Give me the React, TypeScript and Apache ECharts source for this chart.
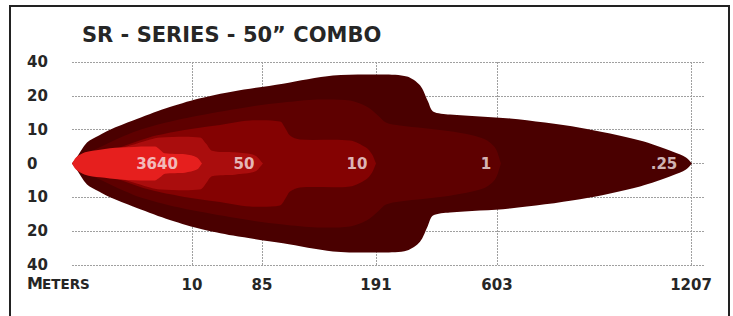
import React, { useEffect, useRef } from "react";
import * as echarts from "echarts";

// Axis ticks (x in chart position units, y in grid rows)
const xTickPositions = [120, 190, 304, 425, 619];
const xTickLabels = ["10", "85", "191", "603", "1207"];
const yTickLabels = ["40", "20", "10", "0", "10", "20", "40"];

// Beam contours: x position along the beam, half-width in rows
const beam025X = [0, 4, 15, 27, 38, 61, 94, 127, 161, 211, 261, 311, 335, 348, 356, 361, 378, 438, 508, 568, 601, 614, 620];
const beam025H = [0, 0.15, 0.62, 0.83, 1.0, 1.27, 1.63, 1.92, 2.13, 2.36, 2.6, 2.63, 2.57, 2.31, 1.83, 1.54, 1.45, 1.33, 1.06, 0.68, 0.35, 0.18, 0];

const beam1X = [0, 8, 21, 61, 94, 127, 178, 211, 245, 278, 295, 306, 314, 328, 378, 411, 423, 429];
const beam1H = [0, 0.18, 0.38, 0.92, 1.21, 1.42, 1.68, 1.8, 1.89, 1.86, 1.68, 1.42, 1.21, 1.12, 0.95, 0.74, 0.47, 0];

const beam10X = [0, 18, 44, 77, 111, 144, 178, 208, 213, 218, 228, 278, 294, 300, 304];
const beam10H = [0, 0.21, 0.44, 0.77, 0.98, 1.12, 1.27, 1.24, 1.06, 0.83, 0.71, 0.68, 0.47, 0.27, 0];

const beam50X = [0, 23, 58, 78, 88, 128, 134, 140, 163, 183, 191];
const beam50H = [0, 0.24, 0.53, 0.71, 0.77, 0.77, 0.59, 0.38, 0.33, 0.24, 0];

const beam3640X = [0, 4, 13, 28, 48, 83, 88, 93, 113, 125, 130];
const beam3640H = [0, 0.18, 0.33, 0.41, 0.47, 0.5, 0.41, 0.3, 0.27, 0.18, 0];

const luxLabels = ["3640", "50", "10", "1", ".25"];
const luxLabelX = [85, 172, 285, 414, 592];

const FONT = "DejaVu Sans";

export default function App() {
  const ref = useRef<HTMLDivElement>(null);

  useEffect(() => {
    document.body.style.margin = "0";
    const chart = echarts.init(ref.current!, undefined, { renderer: "svg" });

    const layers = [
      { xs: beam025X, hs: beam025H, color: "#4a0000" },
      { xs: beam1X, hs: beam1H, color: "#5e0000" },
      { xs: beam10X, hs: beam10H, color: "#840202" },
      { xs: beam50X, hs: beam50H, color: "#aa0d0d" },
      { xs: beam3640X, hs: beam3640H, color: "#e61f1e" },
    ];

    const gridStyle = { type: [2, 1] as any, color: "#a0a0a0", width: 1 };

    const beamSeries = layers.map((l, i) => ({
      type: "custom",
      z: 10 + i,
      silent: true,
      data: [[0, 0]],
      renderItem: (_p: any, api: any) => {
        const pts: number[][] = [];
        for (let k = 0; k < l.xs.length; k++) pts.push(api.coord([l.xs[k], l.hs[k]]));
        for (let k = l.xs.length - 1; k >= 0; k--) pts.push(api.coord([l.xs[k], -l.hs[k]]));
        return {
          type: "polygon",
          shape: { points: pts, smooth: 0.3 },
          style: { fill: l.color },
        };
      },
    }));

    chart.setOption({
      animation: false,
      title: {
        text: "SR - SERIES - 50” COMBO",
        left: 77,
        top: 19,
        textStyle: { fontFamily: FONT, fontSize: 21, fontWeight: "bold", color: "#262626" },
      },
      grid: { left: 72, right: 28, top: 62, bottom: 51 },
      xAxis: {
        type: "value",
        min: 0,
        max: 633,
        axisLine: { show: false },
        axisTick: { show: false },
        splitLine: { show: false },
        axisLabel: {
          customValues: xTickPositions,
          formatter: (v: number) => xTickLabels[xTickPositions.indexOf(v)] ?? "",
          margin: 12,
          fontFamily: FONT,
          fontSize: 15,
          fontWeight: "bold",
          color: "#262626",
        },
      },
      yAxis: {
        type: "value",
        min: -3,
        max: 3,
        interval: 1,
        axisLine: { show: false },
        axisTick: { show: false },
        splitLine: { show: true, lineStyle: gridStyle },
        axisLabel: {
          formatter: (v: number) => yTickLabels[Math.round(v) + 3],
          align: "left",
          margin: 45,
          fontFamily: FONT,
          fontSize: 15,
          fontWeight: "bold",
          color: "#262626",
        },
      },
      graphic: [
        {
          type: "rect",
          silent: true,
          z: -10,
          shape: { x: 10, y: 6, width: 719, height: 340 },
          style: { fill: "none", stroke: "#222", lineWidth: 2 },
        },
        {
          type: "text",
          x: 27,
          y: 291,
          style: { text: "M", fontFamily: FONT, fontSize: 16, fontWeight: "bold", fill: "#262626", verticalAlign: "bottom" },
        },
        {
          type: "text",
          x: 42,
          y: 291,
          style: { text: "ETERS", fontFamily: FONT, fontSize: 13.5, fontWeight: "bold", fill: "#262626", verticalAlign: "bottom" },
        },
      ],
      series: [
        {
          type: "line",
          z: 1,
          data: [],
          silent: true,
          markLine: {
            z: 1,
            silent: true,
            symbol: ["none", "none"],
            label: { show: false },
            lineStyle: gridStyle,
            data: xTickPositions.map((v) => ({ xAxis: v })),
          },
        },
        ...beamSeries,
        {
          type: "scatter",
          z: 30,
          silent: true,
          symbolSize: 0,
          data: luxLabelX.map((x, i) => ({ value: [x, 0], name: luxLabels[i] })),
          label: {
            show: true,
            position: "inside",
            formatter: (p: any) => p.name,
            fontFamily: FONT,
            fontSize: 15,
            fontWeight: "bold",
            color: "#f6e6e6",
          },
        },
      ],
    });

    return () => chart.dispose();
  }, []);

  return <div ref={ref} style={{ width: 733, height: 316 }} />;
}
